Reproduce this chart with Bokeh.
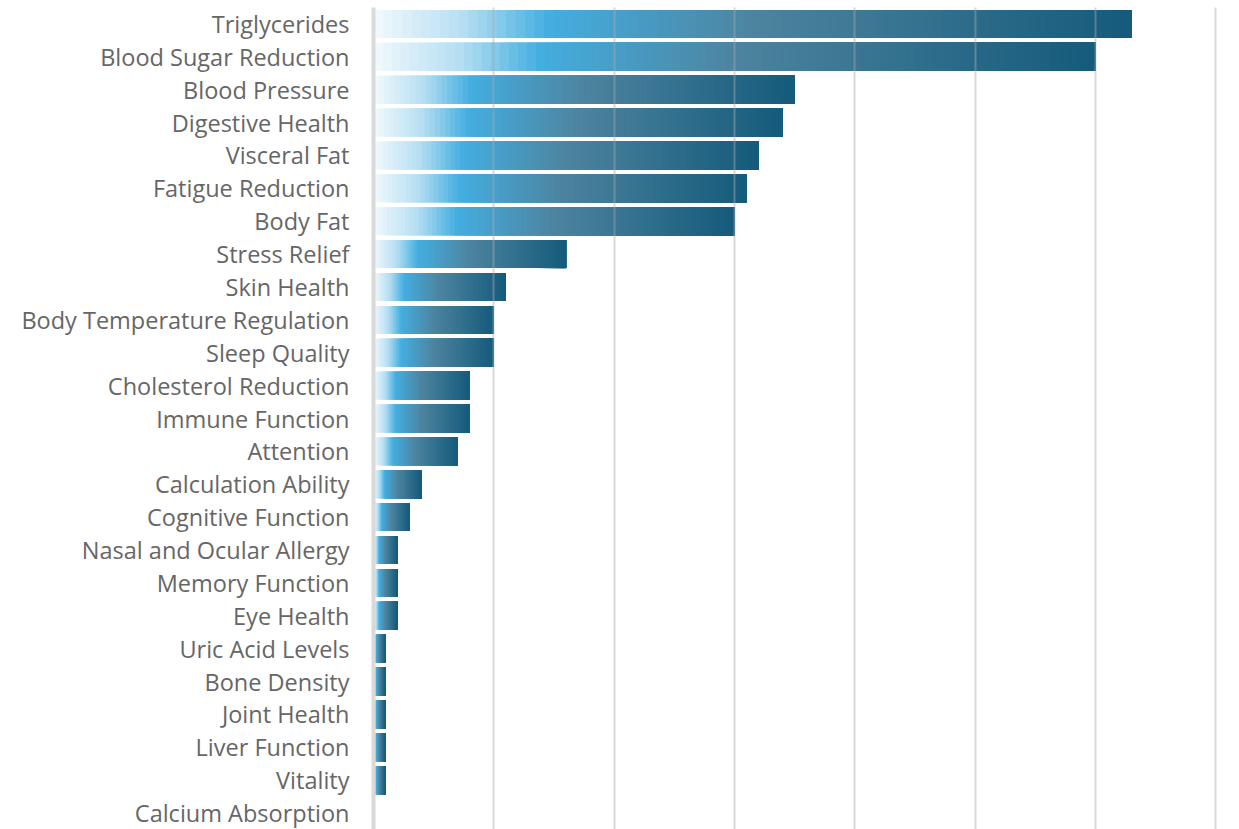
from bokeh.plotting import figure
from bokeh.models import ColumnDataSource, Range1d, FactorRange
from bokeh.embed import file_html
from bokeh.resources import INLINE

categories = ["Triglycerides", "Blood Sugar Reduction", "Blood Pressure", "Digestive Health",
              "Visceral Fat", "Fatigue Reduction", "Body Fat", "Stress Relief", "Skin Health",
              "Body Temperature Regulation", "Sleep Quality", "Cholesterol Reduction",
              "Immune Function", "Attention", "Calculation Ability", "Cognitive Function",
              "Nasal and Ocular Allergy", "Memory Function", "Eye Health", "Uric Acid Levels",
              "Bone Density", "Joint Health", "Liver Function", "Vitality", "Calcium Absorption"]
values = [63, 60, 35, 34, 32, 31, 30, 16, 11, 10, 10, 8, 8, 7, 4, 3, 2, 2, 2, 1, 1, 1, 1, 1, 0]

grad_stops = [(0.0, (242, 249, 253)), (0.12, (181, 222, 242)), (0.23, (68, 174, 224)),
              (0.5, (77, 132, 159)), (1.0, (21, 90, 123))]


def grad_color(t):
    for (t0, c0), (t1, c1) in zip(grad_stops[:-1], grad_stops[1:]):
        if t <= t1:
            f = (t - t0) / (t1 - t0) if t1 > t0 else 0
            c = [round(a + (b - a) * f) for a, b in zip(c0, c1)]
            return "#%02x%02x%02x" % tuple(c)
    return "#%02x%02x%02x" % grad_stops[-1][1]


N = 80
ys, lefts, rights, colors = [], [], [], []
for cat, v in zip(categories, values):
    if v <= 0:
        continue
    for i in range(N):
        ys.append(cat)
        lefts.append(v * i / N)
        rights.append(v)
        colors.append(grad_color((i + 0.5) / N))

src = ColumnDataSource(dict(y=ys, left=lefts, right=rights, color=colors))

p = figure(width=1239, height=829, output_backend="svg", toolbar_location=None,
           y_range=FactorRange(*reversed(categories), range_padding=0),
           x_range=Range1d(0, 70.3),
           min_border_left=373, min_border_right=20, min_border_top=7, min_border_bottom=0)

p.hbar(y="y", left="left", right="right", height=0.85, source=src,
       fill_color="color", line_color=None)

p.outline_line_color = None
p.background_fill_color = "white"
p.xaxis.visible = False
p.ygrid.grid_line_color = None
p.xgrid.ticker = [0, 10, 20, 30, 40, 50, 60, 70]
p.xgrid.grid_line_color = "#a8a8a8"
p.xgrid.grid_line_alpha = 0.45
p.xgrid.grid_line_width = 2
p.xgrid.level = "overlay"

ya = p.yaxis[0]
ya.axis_line_color = "#d9d9d9"
ya.axis_line_width = 4
ya.major_tick_line_color = None
ya.minor_tick_line_color = None
ya.major_label_text_font = "Open Sans"
ya.major_label_text_font_size = "23.5px"
ya.major_label_text_color = "#666666"
ya.major_label_standoff = 18

open("out.html", "w").write(file_html(p, INLINE))
